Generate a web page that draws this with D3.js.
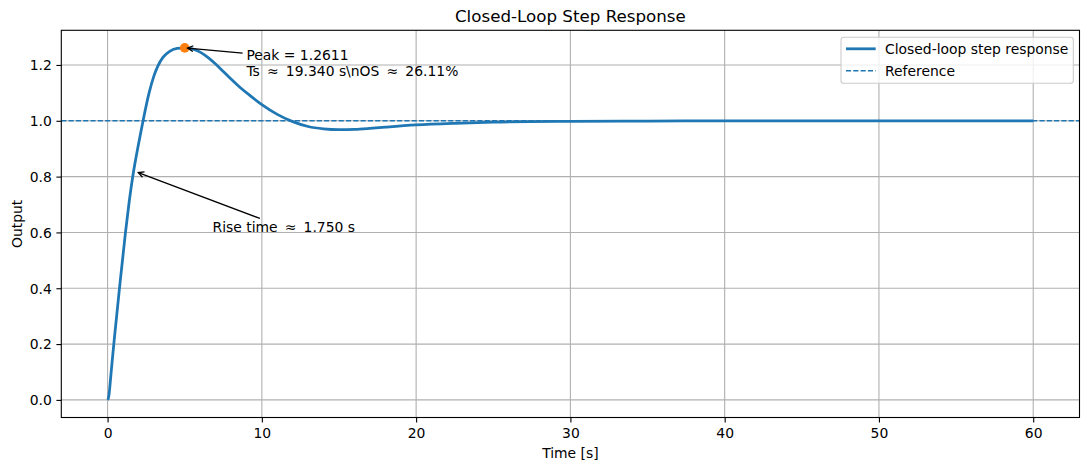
<!DOCTYPE html>
<html>
<head>
<meta charset="utf-8">
<script src="https://cdn.jsdelivr.net/npm/d3@7"></script>
<style>
  body { margin: 0; background: #fff; }
  svg { font-family: "DejaVu Sans", sans-serif; }
</style>
</head>
<body>
<svg id="chart" width="1089" height="470"></svg>
<script>
// ---- data ----
const time = [0, 0.05, 0.1, 0.2, 0.3, 0.43, 0.79, 1.16, 1.4, 1.66, 2.0, 2.3, 2.69, 3.0, 3.25, 3.6, 4.0, 4.5, 5.0,
  5.5, 6.0, 6.5, 7.0, 7.5, 8.0, 8.5, 9.2, 10.0, 11.0, 12.0, 13.0, 14.0, 15.0, 16.0, 17.0, 18.0, 20.0,
  22.5, 25.0, 30.0, 35.0, 40.0, 50.0, 60.0];
const response = [0, 0.006, 0.022, 0.08, 0.14, 0.215, 0.41, 0.60, 0.71, 0.81, 0.915, 1.0, 1.1, 1.16, 1.195, 1.228, 1.248, 1.259, 1.2611,
  1.2574, 1.246, 1.2275, 1.2035, 1.1765, 1.1495, 1.124, 1.092, 1.058, 1.023, 0.997, 0.9795, 0.971, 0.968, 0.969, 0.9725, 0.977, 0.985,
  0.991, 0.995, 0.998, 0.999, 0.9995, 1.0, 1.0];
const reference = 1.0;
const peak = {t: 5.0, y: 1.2611};
const riseMark = {t: 1.82, y: 0.818};
const xTicks = [0, 10, 20, 30, 40, 50, 60];
const yTicks = [0.0, 0.2, 0.4, 0.6, 0.8, 1.0, 1.2];
const labels = {
  title: "Closed-Loop Step Response",
  x: "Time [s]",
  y: "Output",
  series: "Closed-loop step response",
  ref: "Reference",
  peak1: "Peak = 1.2611",
  peak2: "Ts \u2009\u2248\u2009 19.340 s\\nOS \u2009\u2248\u2009 26.11%",
  rise: "Rise time \u2009\u2248\u2009 1.750 s"
};
const peakText = {t: 9.0, y: 1.1611};
const riseText = {t: 6.8, y: 0.6};

// ---- layout ----
const L = 61.3, R = 1079.5, T = 30.3, B = 417.5;
const C0 = "#1f77b4", C1 = "#ff7f0e";
const svg = d3.select("#chart");
const x = d3.scaleLinear().domain([-3, 63]).range([L, R]);
const y = d3.scaleLinear().domain([-0.06306, 1.32417]).range([B, T]);

// grid
const g = svg.append("g");
g.selectAll(".gx").data(xTicks).enter().append("line")
  .attr("x1", d => x(d)).attr("x2", d => x(d)).attr("y1", T).attr("y2", B)
  .attr("stroke", "#b0b0b0").attr("stroke-width", 1.1);
g.selectAll(".gy").data(yTicks).enter().append("line")
  .attr("y1", d => y(d)).attr("y2", d => y(d)).attr("x1", L).attr("x2", R)
  .attr("stroke", "#b0b0b0").attr("stroke-width", 1.1);

// axes
const xAxis = d3.axisBottom(x).tickValues(xTicks).tickFormat(d3.format("d")).tickSize(4.9).tickPadding(3.5);
const yAxis = d3.axisLeft(y).tickValues(yTicks).tickFormat(d3.format(".1f")).tickSize(4.9).tickPadding(3.5);
const gx = svg.append("g").attr("transform", `translate(0,${B})`).call(xAxis);
const gy = svg.append("g").attr("transform", `translate(${L},0)`).call(yAxis);
[gx, gy].forEach(a => {
  a.select(".domain").remove();
  a.selectAll("line").attr("stroke", "#000").attr("stroke-width", 1.1);
  a.selectAll("text").attr("font-size", 13.9).attr("fill", "#000").attr("font-family", "DejaVu Sans");
});
gx.selectAll("text").attr("dy", null).attr("y", 20);
gy.selectAll("text").attr("dy", "0.35em").attr("x", -9.5);

// clip
svg.append("clipPath").attr("id", "clip").append("rect")
  .attr("x", L).attr("y", T).attr("width", R - L).attr("height", B - T);
const plot = svg.append("g").attr("clip-path", "url(#clip)");

// reference line
plot.append("line").attr("x1", L).attr("x2", R).attr("y1", y(reference)).attr("y2", y(reference))
  .attr("stroke", C0).attr("stroke-width", 1.39).attr("stroke-dasharray", "5.1,2.2");

// response
const pts = time.map((t, i) => [t, response[i]]);
plot.append("path").datum(pts)
  .attr("d", d3.line().x(d => x(d[0])).y(d => y(d[1])).curve(d3.curveMonotoneX))
  .attr("fill", "none").attr("stroke", C0).attr("stroke-width", 2.78).attr("stroke-linejoin", "round");

// peak marker
plot.append("circle").attr("cx", x(peak.t)).attr("cy", y(peak.y)).attr("r", 4.8).attr("fill", C1);

// spines
svg.append("rect").attr("x", L).attr("y", T).attr("width", R - L).attr("height", B - T)
  .attr("fill", "none").attr("stroke", "#000").attr("stroke-width", 1.1);

// annotations
function annotate(lines, tx, ty, target) {
  const tg = svg.append("g");
  const lh = 16.2;
  lines.forEach((s, i) => {
    tg.append("text").attr("x", x(tx)).attr("y", y(ty) - (lines.length - 1 - i) * lh)
      .attr("font-size", 13.9).attr("fill", "#000").style("white-space", "pre").text(s);
  });
  const bb = tg.node().getBBox();
  const cx = bb.x + bb.width / 2, cy = bb.y + bb.height / 2;
  const px = x(target.t), py = y(target.y);
  let dx = px - cx, dy = py - cy;
  let s = 1;
  if (dx !== 0) s = Math.min(s, Math.abs((bb.width / 2) / dx));
  if (dy !== 0) s = Math.min(s, Math.abs((bb.height / 2) / dy));
  let sx = cx + dx * s, sy = cy + dy * s;
  const len = Math.hypot(px - sx, py - sy);
  const ux = (px - sx) / len, uy = (py - sy) / len;
  const shrink = 2.8;
  sx += ux * shrink; sy += uy * shrink;
  const ex = px - ux * shrink, ey = py - uy * shrink;
  svg.append("line").attr("x1", sx).attr("y1", sy).attr("x2", ex).attr("y2", ey)
    .attr("stroke", "#000").attr("stroke-width", 1.3);
  const hl = 5.6, hw = 2.9;
  const bx = ex - ux * hl, by = ey - uy * hl;
  svg.append("path")
    .attr("d", `M${bx - uy * hw},${by + ux * hw}L${ex},${ey}L${bx + uy * hw},${by - ux * hw}`)
    .attr("fill", "none").attr("stroke", "#000").attr("stroke-width", 1.3);
}
annotate([labels.peak1, labels.peak2], peakText.t, peakText.y, peak);
annotate([labels.rise], riseText.t, riseText.y, riseMark);

// titles
svg.append("text").attr("x", (L + R) / 2).attr("y", 21.7).attr("text-anchor", "middle")
  .attr("font-size", 16.7).text(labels.title);
svg.append("text").attr("x", (L + R) / 2).attr("y", 458.3).attr("text-anchor", "middle")
  .attr("font-size", 13.9).text(labels.x);
svg.append("text").attr("transform", `translate(22,${(T + B) / 2}) rotate(-90)`).attr("text-anchor", "middle")
  .attr("font-size", 13.9).text(labels.y);

// legend
const lg = svg.append("g");
lg.append("rect").attr("x", 841).attr("y", 37.3).attr("width", 232.3).attr("height", 46)
  .attr("rx", 2.8).attr("fill", "#fff").attr("fill-opacity", 0.8)
  .attr("stroke", "#cccccc").attr("stroke-width", 1.1);
lg.append("line").attr("x1", 846).attr("x2", 875.7).attr("y1", 48.8).attr("y2", 48.8)
  .attr("stroke", C0).attr("stroke-width", 2.78);
lg.append("line").attr("x1", 846).attr("x2", 875.7).attr("y1", 70.7).attr("y2", 70.7)
  .attr("stroke", C0).attr("stroke-width", 1.39).attr("stroke-dasharray", "5.1,2.2");
lg.append("text").attr("x", 885).attr("y", 53.8).attr("font-size", 13.9).text(labels.series);
lg.append("text").attr("x", 885).attr("y", 75.7).attr("font-size", 13.9).text(labels.ref);
</script>
</body>
</html>
